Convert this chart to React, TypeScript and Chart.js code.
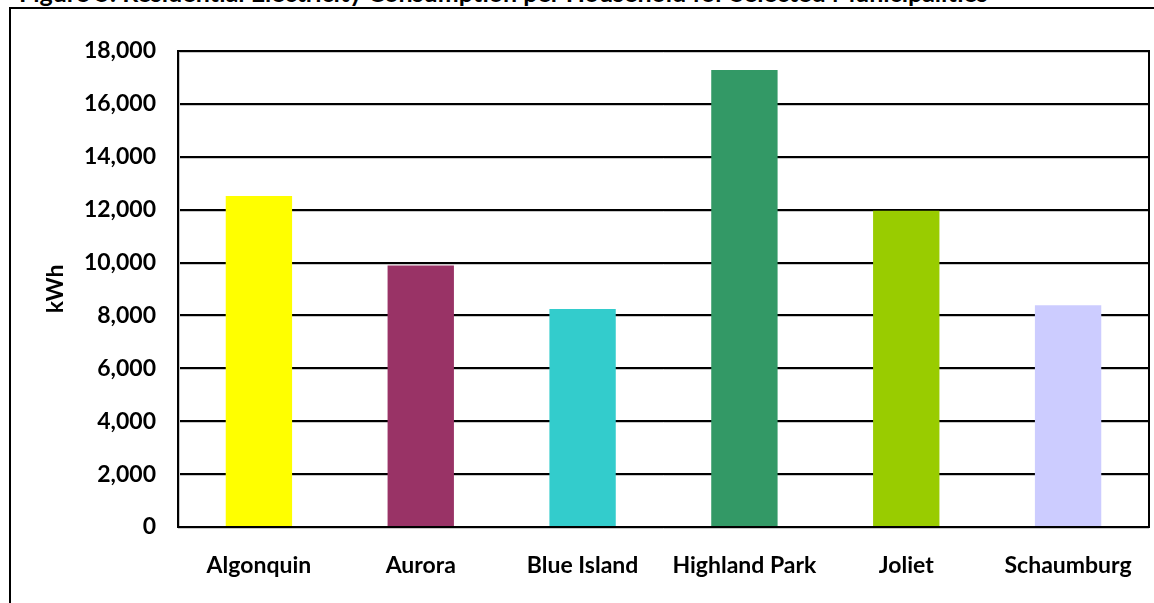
import React, { useEffect, useRef } from "react";
import { Chart, registerables } from "chart.js";

Chart.register(...registerables);

const categories = ["Algonquin", "Aurora", "Blue Island", "Highland Park", "Joliet", "Schaumburg"];
const consumption = [12520, 9890, 8240, 17280, 11960, 8390];
const barColors = ["#FFFF00", "#993366", "#33CCCC", "#339966", "#99CC00", "#CCCCFF"];
const yTickValues = [0, 2000, 4000, 6000, 8000, 10000, 12000, 14000, 16000, 18000];
const titleText = "Figure 5: Residential Electricity Consumption per Household for Selected Municipalities";
const yAxisTitle = "kWh";

const FONT = "Lato, 'Open Sans', sans-serif";

const framePlugin = {
  id: "framePlugin",
  beforeDatasetsDraw(chart: any) {
    const { ctx, chartArea } = chart;
    const y = chart.scales.y;
    ctx.save();
    ctx.strokeStyle = "#c8c8c8";
    ctx.lineWidth = 1;
    yTickValues.forEach((v) => {
      const py = Math.round(y.getPixelForValue(v)) + 1.5;
      ctx.beginPath();
      ctx.moveTo(chartArea.left, py);
      ctx.lineTo(chartArea.right, py);
      ctx.stroke();
    });
    ctx.beginPath();
    ctx.moveTo(chartArea.left + 1.5, chartArea.top);
    ctx.lineTo(chartArea.left + 1.5, chartArea.bottom);
    ctx.stroke();
    ctx.restore();
  },
  afterDatasetsDraw(chart: any) {
    const { ctx, chartArea } = chart;
    ctx.save();
    ctx.strokeStyle = "#000";
    ctx.lineWidth = 2;
    ctx.strokeRect(chartArea.left, chartArea.top, chartArea.right - chartArea.left, chartArea.bottom - chartArea.top);
    ctx.restore();
  },
};

export default function App() {
  const canvasRef = useRef<HTMLCanvasElement | null>(null);

  useEffect(() => {
    if (!canvasRef.current) return;
    const chart = new Chart(canvasRef.current, {
      type: "bar",
      data: {
        labels: categories,
        datasets: [
          {
            data: consumption,
            backgroundColor: barColors,
            borderWidth: 0,
            barPercentage: 0.41,
            categoryPercentage: 1,
          },
        ],
      },
      options: {
        animation: false,
        responsive: false,
        maintainAspectRatio: false,
        layout: { padding: { left: 0, top: 51, right: 5, bottom: 0 } },
        plugins: {
          legend: { display: false },
          tooltip: { enabled: false },
          title: { display: false },
        },
        scales: {
          x: {
            grid: { display: false, drawTicks: false },
            border: { display: false },
            ticks: {
              color: "#000",
              padding: 25,
              maxRotation: 0,
              autoSkip: false,
              font: { family: FONT, size: 23, weight: "bold" },
            },
            afterFit: (scale: any) => {
              scale.height = 76;
              scale.paddingLeft = 0;
              scale.paddingRight = 0;
            },
          },
          y: {
            min: 0,
            max: 18000,
            grid: { color: "#000", lineWidth: 2, drawTicks: false },
            border: { display: false },
            afterBuildTicks: (scale: any) => {
              scale.ticks = yTickValues.map((v) => ({ value: v }));
            },
            ticks: {
              color: "#000",
              padding: 22,
              font: { family: FONT, size: 23, weight: "bold" },
              callback: (v: any) => Number(v).toLocaleString("en-US"),
            },
            title: {
              display: true,
              text: yAxisTitle,
              color: "#000",
              padding: { top: 42, bottom: 0 },
              font: { family: FONT, size: 23, weight: "bold" },
            },
            afterFit: (scale: any) => {
              scale.width = 178;
            },
          },
        },
      },
      plugins: [framePlugin],
    });
    return () => chart.destroy();
  }, []);

  return (
    <div
      style={{
        position: "fixed",
        left: 0,
        top: 0,
        width: 1154,
        height: 603,
        background: "#fff",
        overflow: "hidden",
      }}
    >
      <div
        style={{
          position: "absolute",
          left: 19,
          top: 0,
          width: 1120,
          height: 7,
          overflow: "hidden",
        }}
      >
        <div
          style={{
            position: "absolute",
            left: 0,
            top: -20,
            whiteSpace: "nowrap",
            fontFamily: FONT,
            fontWeight: "bold",
            fontSize: 25,
            lineHeight: "25px",
            color: "#000",
          }}
        >
          {titleText}
        </div>
      </div>
      <div
        style={{
          position: "absolute",
          left: 9,
          top: 7,
          width: 1300,
          height: 800,
          border: "2px solid #000",
          boxSizing: "border-box",
        }}
      />
      <canvas
        ref={canvasRef}
        width={1154}
        height={603}
        style={{ position: "absolute", left: 0, top: 0, width: 1154, height: 603 }}
      />
    </div>
  );
}
